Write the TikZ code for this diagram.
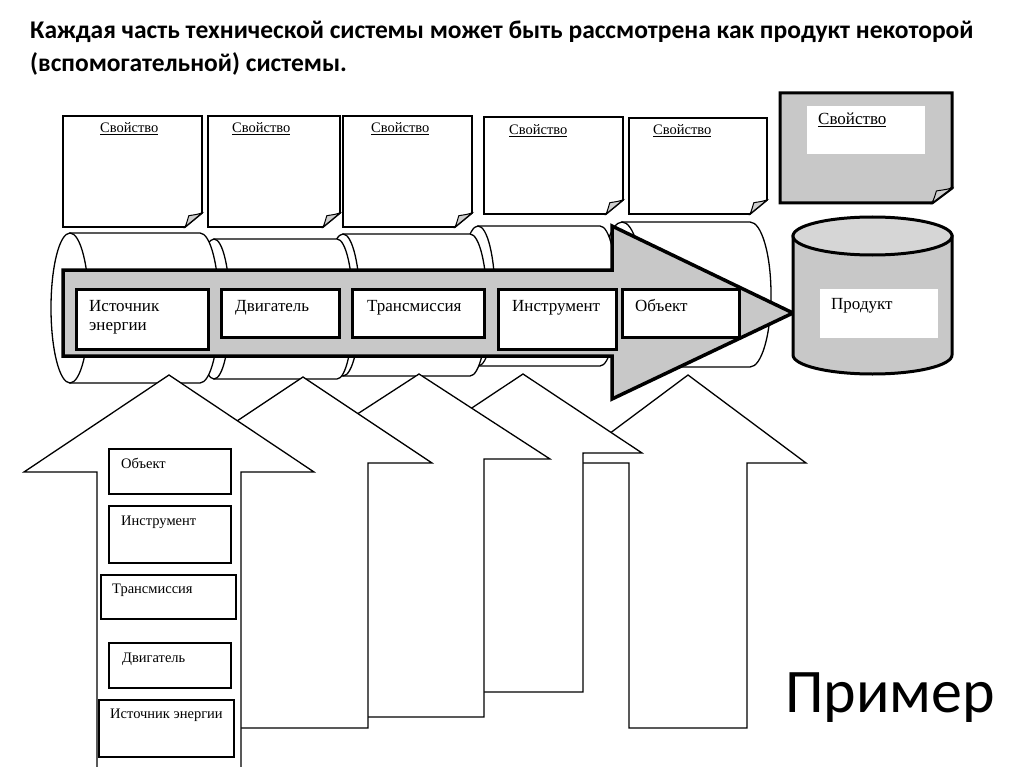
\documentclass[tikz,border=0pt]{standalone}
\usepackage{fontspec}
\setmainfont{Liberation Serif}
\newfontfamily\titlefont{Carlito}
\definecolor{arrowgray}{HTML}{C8C8C8}
\definecolor{topgray}{HTML}{D6D6D6}
\definecolor{curlgray}{HTML}{CFCFCF}
\newcommand\cylseg[5]{%
  \pgfmathsetmacro\mycylc{(#3+#4)/2}%
  \pgfmathsetmacro\mycylr{(#4-#3)/2}%
  \path[cylstyle] (#1,#3) -- (#2,#3) arc[start angle=90, end angle=-90, x radius=#5pt, y radius=\mycylr pt] -- (#1,#4) -- cycle;
  \path[cylstyle] (#1,\mycylc) ellipse[x radius=#5pt, y radius=\mycylr pt];
}
\newcommand\stickynote[7]{%
  \path[#7] (#1,#2) -- (#3,#2) -- (#3,{#4-#6}) -- ({#3-#5},#4) -- (#1,#4) -- cycle;
  \path[curlstyle] (#3,{#4-#6}) .. controls ({#3-0.4*#5},{#4-0.85*#6}) and ({#3-0.65*#5},{#4-0.85*#6}) .. ({#3-0.78*#5},{#4-0.8*#6})
     .. controls ({#3-0.85*#5},{#4-0.5*#6}) and ({#3-0.92*#5},{#4-0.2*#6}) .. ({#3-#5},#4) -- cycle;
}
\newcommand\uparrowshape[6]{%
  \path[uparrow] (#1,#2) -- ({#1+#4},#3) -- ({#1+#5},#3) -- ({#1+#5},#6) -- ({#1-#5},#6) -- ({#1-#5},#3) -- ({#1-#4},#3) -- cycle;
}
\begin{document}
\begin{tikzpicture}[x=1pt,y=-1pt,
  cylstyle/.style={draw=black, fill=white, line width=1.3pt},
  uparrow/.style={draw=black, fill=white, line width=1.3pt, line join=miter},
  notestyle/.style={draw=black, fill=white, line width=1.8pt, line join=miter},
  graynote/.style={draw=black, fill=arrowgray, line width=3pt, line join=miter},
  curlstyle/.style={draw=black, fill=curlgray, line width=1pt},
  grayarrow/.style={draw=black, fill=arrowgray, line width=3.5pt, line join=miter},
  pipebox/.style={draw=black, fill=white, line width=3pt},
  stackbox/.style={draw=black, fill=white, line width=1.3pt},
  whitebox/.style={draw=none, fill=white},
  productbody/.style={draw=black, fill=arrowgray, line width=3pt},
  producttop/.style={draw=black, fill=topgray, line width=3pt},
  pipetext/.style={font=\fontsize{17}{19}\selectfont, inner sep=0pt, anchor=base west},
  stacktext/.style={font=\fontsize{14.5}{16}\selectfont, inner sep=0pt, anchor=base west},
  notetext/.style={font=\fontsize{14.5}{16}\selectfont, inner sep=0pt, anchor=base west},
  titletext/.style={font=\titlefont\bfseries\fontsize{25.5}{30}\selectfont, inner sep=0pt, anchor=base west}
]
\useasboundingbox (0,0) rectangle (1024,767);
\clip (0,0) rectangle (1024,767);
\fill[white] (0,0) rectangle (1024,767);

% title
\node[titletext] (title1) at (30,39) {Каждая часть технической системы может быть рассмотрена как продукт некоторой};
\node[titletext] (title2) at (30,72) {(вспомогательной) системы.};

% cylinder segments (back to front)
\cylseg{622}{750}{222}{367}{21}
\cylseg{478}{600}{226}{366}{17}
\cylseg{343}{470}{234}{376}{17}
\cylseg{214}{337}{239}{379}{16}
\cylseg{70}{200}{233}{383}{19}

% upward arrows (back to front)
\uparrowshape{688}{375}{463}{118}{59}{728}
\uparrowshape{523}{374}{453}{119}{60}{692}
\uparrowshape{419}{374}{459}{131}{65}{717}
\uparrowshape{303}{377}{463}{129}{65}{728}
\uparrowshape{169}{375}{472}{145}{72}{790}

% boxes in the front arrow
\path[stackbox] (109,449) rectangle (231,494);
\node[stacktext] (s-obj) at (121,468) {Объект};
\path[stackbox] (109,506) rectangle (231,563);
\node[stacktext] (s-tool) at (121,525) {Инструмент};
\path[stackbox] (101,575) rectangle (236,619);
\node[stacktext] (s-trans) at (112,593) {Трансмиссия};
\path[stackbox] (109,643) rectangle (231,688);
\node[stacktext] (s-eng) at (122,662) {Двигатель};
\path[stackbox] (99,700) rectangle (234,757);
\node[stacktext] (s-src) at (110,718) {Источник энергии};

% big gray arrow
\path[grayarrow] (63,270) -- (612,270) -- (612,226) -- (793,313) -- (612,399) -- (612,356) -- (63,356) -- cycle;
\path[pipebox] (76,289) rectangle (208,349);
\node[pipetext] (p-src1) at (89,311) {Источник};
\node[pipetext] (p-src2) at (89,330) {энергии};
\path[pipebox] (221,289) rectangle (339,337);
\node[pipetext] (p-eng) at (235,311) {Двигатель};
\path[pipebox] (352,289) rectangle (484,337);
\node[pipetext] (p-trans) at (367,311) {Трансмиссия};
\path[pipebox] (498,289) rectangle (616,349);
\node[pipetext] (p-tool) at (512,311) {Инструмент};
\path[pipebox] (622,289) rectangle (739,337);
\node[pipetext] (p-obj) at (635,311) {Объект};

% product cylinder
\path[productbody] (793,236) -- (793,355) arc[start angle=180, end angle=360, x radius=79.5pt, y radius=19pt] -- (952,236) -- cycle;
\path[producttop] (872.5,236) ellipse[x radius=79.5pt, y radius=19pt];
\path[whitebox] (820,289) rectangle (938,338);
\node[pipetext] (product) at (831,309) {Продукт};

% property notes
\stickynote{63}{116}{202}{227}{17}{14}{notestyle}
\node[notetext] (n1) at (100,133) {\underline{Свойство}};
\stickynote{208}{116}{340}{227}{17}{14}{notestyle}
\node[notetext] (n2) at (232,133) {\underline{Свойство}};
\stickynote{343}{116}{472}{227}{17}{14}{notestyle}
\node[notetext] (n3) at (371,133) {\underline{Свойство}};
\stickynote{484}{117}{623}{214}{17}{14}{notestyle}
\node[notetext] (n4) at (509,135) {\underline{Свойство}};
\stickynote{629}{118}{767}{214}{17}{14}{notestyle}
\node[notetext] (n5) at (653,135) {\underline{Свойство}};
\stickynote{780}{93}{952}{203}{20}{15}{graynote}
\path[whitebox] (807,106) rectangle (925,154);
\node[pipetext] (n6) at (818,125) {\underline{Свойство}};

% example label
\node[anchor=base west, inner sep=0pt, font=\titlefont\fontsize{62}{70}\selectfont] (example) at (785,712) {Пример};
\end{tikzpicture}
\end{document}
